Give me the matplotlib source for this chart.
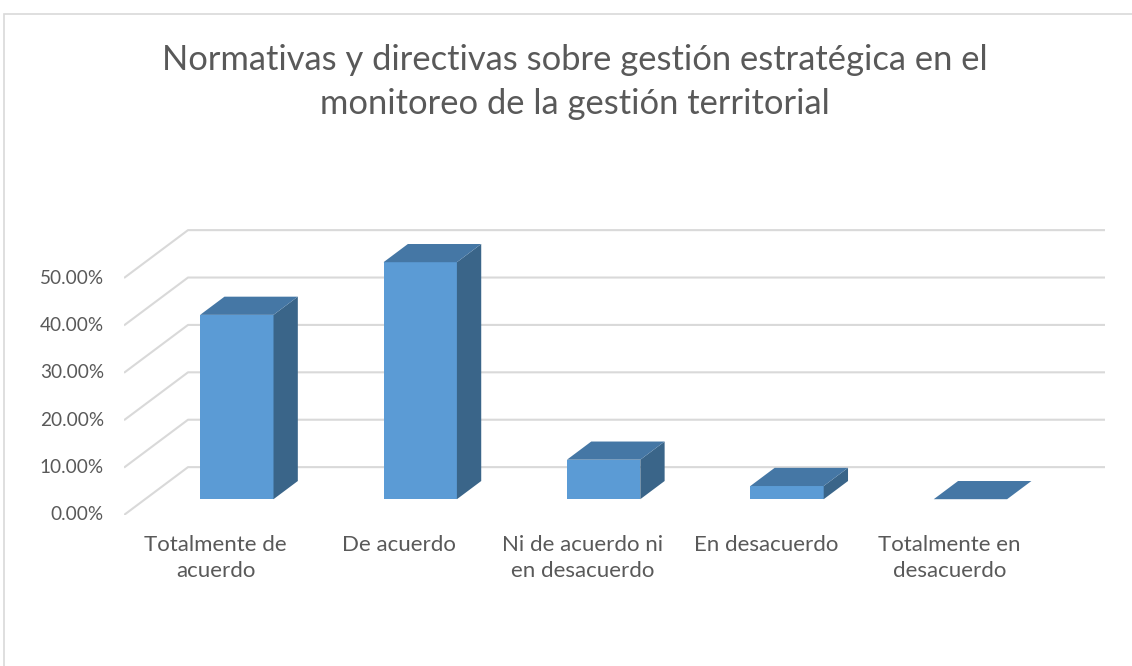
import numpy as np
import matplotlib.pyplot as plt
from matplotlib.patches import Polygon, Rectangle

categories = ["Totalmente de\nacuerdo", "De acuerdo", "Ni de acuerdo ni\nen desacuerdo",
              "En desacuerdo", "Totalmente en\ndesacuerdo"]
values = [38.89, 50.00, 8.33, 2.78, 0.00]
ticks = [0, 10, 20, 30, 40, 50]
title = "Normativas y directivas sobre gestión estratégica en el\nmonitoreo de la gestión territorial"

# oblique projection of depth (category units, percent units)
dx, dy = 0.349, 10.1
bar_w = 0.40
d0, d1 = 0.33, 0.71

front_col = '#5B9BD5'
top_col = '#4577A5'
side_col = '#3A6589'
grid_col = '#D9D9D9'
text_col = '#595959'

W, H = 1132, 666
fig = plt.figure(figsize=(W / 100, H / 100), dpi=100)
plt.rcParams['font.family'] = ['Lato', 'DejaVu Sans']

# axes placed so x=0 -> 124px, x=5 -> 1041px, y=0 -> 515px, y=50 -> 278px
px_per_cat = (1041 - 124) / 5
px_per_pct = (515 - 278) / 50
xmin, xmax = 0, 5 + dx
ymin, ymax = 0, 61
left = 124 / W
width = (xmax - xmin) * px_per_cat / W
bottom = (H - 515) / H
height = (ymax - ymin) * px_per_pct / H
ax = fig.add_axes([left, bottom, width, height])
ax.set_xlim(xmin, xmax)
ax.set_ylim(ymin, ymax)
ax.axis('off')

n = len(categories)
# gridlines: oblique part then back wall
for t in ticks:
    ax.plot([0, dx, n + dx], [t, t + dy, t + dy], color=grid_col, lw=1.5,
            solid_capstyle='butt', zorder=1)
    ax.text(-0.11, t, f"{t:.2f}%", ha='right', va='center', fontsize=13.7,
            color=text_col, clip_on=False)

for i, (cat, v) in enumerate(zip(categories, values)):
    xc = i + 0.5
    x0 = xc - bar_w / 2 + d0 * dx
    x1 = xc + bar_w / 2 + d0 * dx
    yb = d0 * dy
    yt = yb + v
    ddx = (d1 - d0) * dx
    ddy = (d1 - d0) * dy
    if v > 0:
        ax.add_patch(Polygon([[x0, yb], [x1, yb], [x1, yt], [x0, yt]],
                             closed=True, fc=front_col, ec='none', zorder=3))
        ax.add_patch(Polygon([[x1, yb], [x1 + ddx, yb + ddy], [x1 + ddx, yt + ddy], [x1, yt]],
                             closed=True, fc=side_col, ec='none', zorder=3))
    ax.add_patch(Polygon([[x0, yt], [x1, yt], [x1 + ddx, yt + ddy], [x0 + ddx, yt + ddy]],
                         closed=True, fc=top_col, ec='none', zorder=3))
    ax.text(xc, -4.3, cat, ha='center', va='top', fontsize=16, color=text_col,
            linespacing=1.38, clip_on=False)

fig.text(575 / W, 1 - 44 / H, title, ha='center', va='top', fontsize=24.8,
         color=text_col, linespacing=1.48)

# chart area border
fig.patches.append(Rectangle((4 / W, -0.1), 1.2, 1.1 - 14 / H, transform=fig.transFigure,
                             fill=False, ec=grid_col, lw=1.2))

fig.savefig('out.png', dpi=100)
